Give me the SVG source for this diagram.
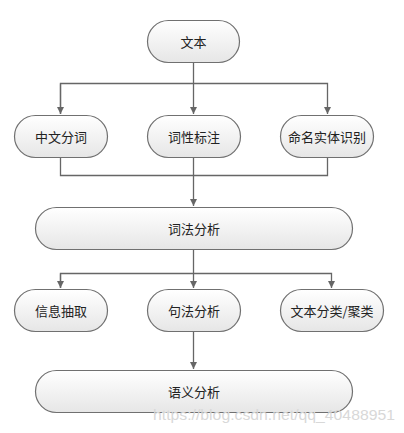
<svg xmlns="http://www.w3.org/2000/svg" width="404" height="433" viewBox="0 0 404 433">
<defs>
<linearGradient id="g" x1="0" y1="0" x2="0" y2="1">
<stop offset="0" stop-color="#ffffff"/>
<stop offset="1" stop-color="#e6e6e6"/>
</linearGradient>
<marker id="a" markerWidth="8" markerHeight="8" refX="7" refY="4" orient="auto" markerUnits="userSpaceOnUse">
<path d="M0,0.5 L7,4 L0,7.5 Z" fill="#666"/>
</marker>
<style>
.n rect{fill:url(#g);stroke:#707070;stroke-width:1.2}
.n text{font-family:"Noto Sans CJK SC","Microsoft YaHei",sans-serif;font-size:13px;fill:#222;text-anchor:middle;dominant-baseline:central}
#c path{fill:none;stroke:#666;stroke-width:1.3}
.w{font-family:"Liberation Sans",Arial,sans-serif;font-size:14px;fill:#d8d8d8}
</style>
</defs>
<rect width="404" height="433" fill="#fff"/>
<g id="c">
<path d="M193.5,63 V114" marker-end="url(#a)"/>
<path d="M60.5,114 V83.5 H327.5 V114" marker-end="url(#a)"/>
<path d="M60.5,83.5 V114" marker-end="url(#a)"/>
<path d="M60.5,157 V175.5 H327.5 V157"/>
<path d="M193.5,157 V206" marker-end="url(#a)"/>
<path d="M193.5,249 V288" marker-end="url(#a)"/>
<path d="M60.5,288 V273.5 H331.5 V288" marker-end="url(#a)"/>
<path d="M60.5,273.5 V288" marker-end="url(#a)"/>
<path d="M193.5,331 V369" marker-end="url(#a)"/>
</g>
<g id="n1" class="n"><rect x="147.5" y="20.5" width="92" height="42" rx="21"/><text x="193.5" y="41.5">文本</text></g>
<g id="n2" class="n"><rect x="14.5" y="115.5" width="93" height="42" rx="21"/><text x="61" y="136.5">中文分词</text></g>
<g id="n3" class="n"><rect x="147.5" y="115.5" width="93" height="42" rx="21"/><text x="194" y="136.5">词性标注</text></g>
<g id="n4" class="n"><rect x="280.5" y="115.5" width="93" height="42" rx="21"/><text x="327" y="136.5">命名实体识别</text></g>
<g id="n5" class="n"><rect x="35.5" y="207.5" width="317" height="42" rx="21"/><text x="194" y="228.5">词法分析</text></g>
<g id="n6" class="n"><rect x="14.5" y="289.5" width="93" height="42" rx="21"/><text x="61" y="310.5">信息抽取</text></g>
<g id="n7" class="n"><rect x="147.5" y="289.5" width="93" height="42" rx="21"/><text x="194" y="310.5">句法分析</text></g>
<g id="n8" class="n"><rect x="280.5" y="289.5" width="103" height="42" rx="21"/><text x="332" y="310.5">文本分类/聚类</text></g>
<g id="n9" class="n"><rect x="35.5" y="370.5" width="317" height="42" rx="21"/><text x="194" y="391.5">语义分析</text></g>
<text class="w" x="153" y="420" textLength="242" lengthAdjust="spacingAndGlyphs">https://blog.csdn.net/qq_40488951</text>
</svg>
